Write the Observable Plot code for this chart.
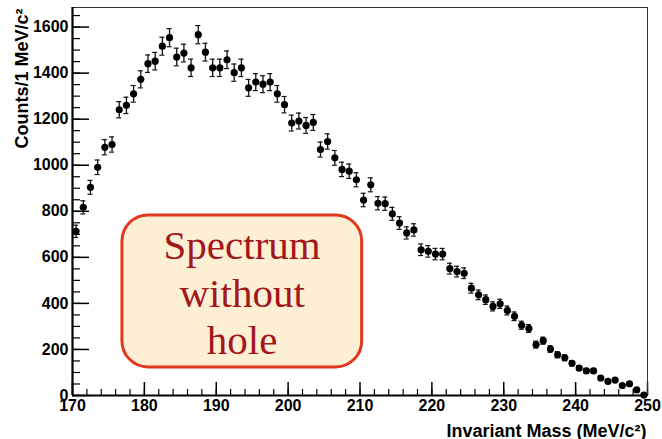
<!DOCTYPE html>
<html>
<head>
<meta charset="utf-8">
<script src="https://cdn.jsdelivr.net/npm/d3@7"></script>
<script src="https://cdn.jsdelivr.net/npm/@observablehq/plot@0.6"></script>
<style>
  html, body { margin: 0; padding: 0; background: #fff; }
  #chart svg { display: block; }
</style>
</head>
<body>
<div id="chart"></div>
<script>
// Bin centres (MeV/c^2)
const mass = [
  170.5,171.5,172.5,173.5,174.5,175.5,176.5,177.5,178.5,179.5,
  180.5,181.5,182.5,183.5,184.5,185.5,186.5,187.5,188.5,189.5,
  190.5,191.5,192.5,193.5,194.5,195.5,196.5,197.5,198.5,199.5,
  200.5,201.5,202.5,203.5,204.5,205.5,206.5,207.5,208.5,209.5,
  210.5,211.5,212.5,213.5,214.5,215.5,216.5,217.5,218.5,219.5,
  220.5,221.5,222.5,223.5,224.5,225.5,226.5,227.5,228.5,229.5,
  230.5,231.5,232.5,233.5,234.5,235.5,236.5,237.5,238.5,239.5,
  240.5,241.5,242.5,243.5,244.5,245.5,246.5,247.5,248.5,249.5
];
// Counts per 1 MeV/c^2
const counts = [
  713, 817, 904, 991,1078,1090,1241,1260,1310,1373,
  1441,1452,1517,1554,1470,1487,1423,1567,1491,1423,
  1423,1458,1402,1423,1336,1361,1352,1361,1310,1263,
  1183,1192,1173,1186,1068,1103,1032, 982, 974, 937,
  849, 915, 835, 833, 789, 749, 706, 719, 633, 626,
  614, 614, 551, 538, 531, 466, 437, 416, 387, 398,
  369, 344, 305, 291, 221, 238, 202, 177, 164, 140,
  119, 107, 107,  76,  61,  67,  43,  51,  24,   2
];
const xMajor = [170,180,190,200,210,220,230,240,250];
const xMinor = d3.range(170, 251, 2);
const yMajor = [0,200,400,600,800,1000,1200,1400,1600];
const yMinor = d3.range(0, 1651, 50);
const xLabel = "Invariant Mass (MeV/c²)";
const yLabel = "Counts/1 MeV/c²";
const noteText = "Spectrum\nwithout\nhole";

const data = mass.map((m, i) => ({m, c: counts[i], e: Math.sqrt(counts[i])}));

const W = 662, H = 439;
const mL = 72, mR = 15, mT = 7, mB = 44;
const innerW = W - mL - mR, innerH = H - mT - mB;
const SANS = "'Liberation Sans', Arial, Helvetica, sans-serif";
const bold = {fontWeight: "bold", fontFamily: SANS, fill: "#000"};

const chart = Plot.plot({
  width: W, height: H,
  marginLeft: mL, marginRight: mR, marginTop: mT, marginBottom: mB,
  style: {fontFamily: SANS, fontSize: "16px", color: "#000", background: "#fff"},
  x: {domain: [170, 250], axis: null},
  y: {domain: [0, 1685], axis: null},
  marks: [
    // annotation box
    Plot.rect([0], {x1: () => 176.95, x2: () => 210.3, y1: () => 122, y2: () => 782,
      fill: "#fdefd4", stroke: "#e2371d", strokeWidth: 3, rx: 26}),
    Plot.text([noteText], {x: () => 193.6, y: () => 452, text: d => d,
      fontFamily: "'Liberation Serif', 'Times New Roman', serif", fontWeight: "normal",
      fontSize: 41, lineHeight: 1.15, fill: "#a3161b", lineAnchor: "middle", textAnchor: "middle"}),
    // inward ticks
    Plot.tickY(yMajor, {y: d => d, insetRight: innerW - 17, stroke: "#000", strokeWidth: 1.5}),
    Plot.tickY(yMinor, {y: d => d, insetRight: innerW - 8, stroke: "#000", strokeWidth: 1.2}),
    Plot.tickX(xMajor, {x: d => d, insetTop: innerH - 13, stroke: "#000", strokeWidth: 1.5}),
    Plot.tickX(xMinor, {x: d => d, insetTop: innerH - 6, stroke: "#000", strokeWidth: 1.2}),
    // frame
    Plot.frame({stroke: "#333", strokeWidth: 1}),
    Plot.ruleX([170], {stroke: "#000", strokeWidth: 2.2}),
    Plot.ruleY([0], {stroke: "#000", strokeWidth: 2.2}),
    // tick labels
    Plot.text(yMajor, {y: d => d, text: d => String(d), frameAnchor: "left", textAnchor: "end",
      lineAnchor: "middle", dx: -4, fontSize: 16, ...bold}),
    Plot.text(xMajor, {x: d => d, text: d => String(d), frameAnchor: "bottom", textAnchor: "middle",
      lineAnchor: "top", dy: 4, fontSize: 16, ...bold}),
    // axis titles
    Plot.text([xLabel], {frameAnchor: "bottom-right", text: d => d, textAnchor: "end",
      lineAnchor: "bottom", dy: 41, dx: -1, fontSize: 18, ...bold}),
    Plot.text([yLabel], {frameAnchor: "top-left", text: d => d, rotate: -90, textAnchor: "end",
      lineAnchor: "middle", dx: -50, dy: 1, fontSize: 18, ...bold}),
    // error bars
    Plot.ruleX(data, {x: "m", y1: d => d.c - d.e, y2: d => d.c + d.e, stroke: "#111", strokeWidth: 1.3}),
    Plot.ruleY(data, {y: d => d.c + d.e, x1: "m", x2: "m", insetLeft: -2.5, insetRight: -2.5, stroke: "#111", strokeWidth: 1.2}),
    Plot.ruleY(data, {y: d => d.c - d.e, x1: "m", x2: "m", insetLeft: -2.5, insetRight: -2.5, stroke: "#111", strokeWidth: 1.2}),
    // points
    Plot.dot(data, {x: "m", y: "c", r: 3.6, fill: "#000", stroke: "none"})
  ]
});
document.getElementById("chart").appendChild(chart);
</script>
</body>
</html>
